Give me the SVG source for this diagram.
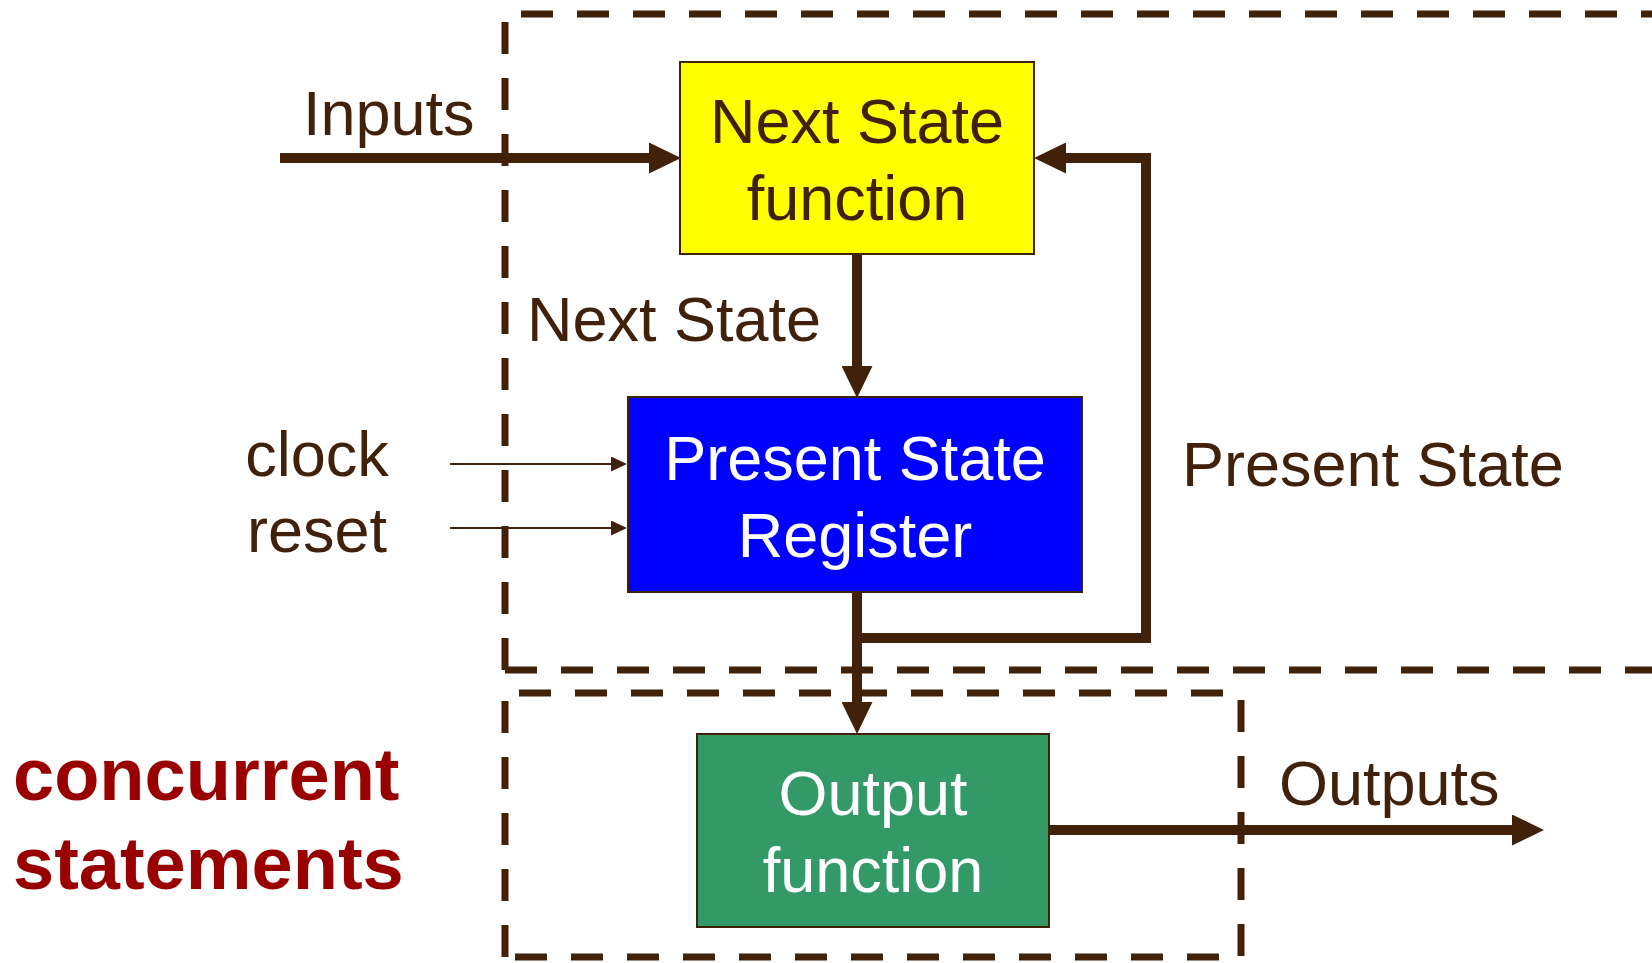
<svg xmlns="http://www.w3.org/2000/svg" width="1652" height="963" viewBox="0 0 1652 963">
  <style>
    .lbl { font-family: "Liberation Sans", Arial, sans-serif; font-size: 63px; fill: #41210A; }
    .box-text { font-family: "Liberation Sans", Arial, sans-serif; font-size: 63px; text-anchor: middle; }
    .note { font-family: "Liberation Sans", Arial, sans-serif; font-size: 74px; font-weight: bold; fill: #990000; }
    .dash { fill: none; stroke: #41210A; stroke-width: 7; stroke-dasharray: 32 24; }
    .wire { fill: none; stroke: #41210A; stroke-width: 10; stroke-linejoin: miter; }
    .thin { fill: none; stroke: #41210A; stroke-width: 2; }
    .block { stroke: #41210A; stroke-width: 2; }
  </style>
  <defs>
    <marker id="head" markerUnits="userSpaceOnUse" markerWidth="32" markerHeight="31" refX="0" refY="15.5" orient="auto">
      <path d="M0,0 L32,15.5 L0,31 Z" fill="#41210A"/>
    </marker>
    <marker id="head-small" markerUnits="userSpaceOnUse" markerWidth="16" markerHeight="15" refX="0" refY="7.5" orient="auto">
      <path d="M0,0 L16,7.5 L0,15 Z" fill="#41210A"/>
    </marker>
  </defs>

  <rect width="1652" height="963" fill="#FFFFFF"/>

  <!-- sequential region (outer dashed frame, open to the right) -->
  <g id="frame-sequential">
    <path class="dash" d="M521,14 H1652"/>
    <path class="dash" d="M505,670 V10"/>
    <path class="dash" d="M505,670 H1652"/>
  </g>

  <!-- combinational output region (inner dashed frame) -->
  <g id="frame-output">
    <path class="dash" d="M519,693 H1241"/>
    <path class="dash" d="M505,957 V693"/>
    <path class="dash" d="M515,957 H1241"/>
    <path class="dash" d="M1241,700 V957"/>
  </g>

  <!-- connectors -->
  <g id="connectors">
    <path class="wire" d="M280,158 H649" marker-end="url(#head)"/>
    <path class="wire" d="M857,254 V366" marker-end="url(#head)"/>
    <path class="wire" d="M857,592 V702" marker-end="url(#head)"/>
    <path class="wire" d="M857,638 H1146 V158 H1066" marker-end="url(#head)"/>
    <path class="wire" d="M1049,830 H1512" marker-end="url(#head)"/>
    <path class="thin" d="M450,464 H611" marker-end="url(#head-small)"/>
    <path class="thin" d="M450,528 H611" marker-end="url(#head-small)"/>
  </g>

  <!-- blocks -->
  <g id="next-state-function">
    <rect class="block" x="680" y="62" width="354" height="192" fill="#FFFF00"/>
    <text class="box-text" x="857" y="143" fill="#41210A">Next State</text>
    <text class="box-text" x="857" y="220" fill="#41210A">function</text>
  </g>

  <g id="present-state-register">
    <rect class="block" x="628" y="397" width="454" height="195" fill="#0000FF"/>
    <text class="box-text" x="855" y="480" fill="#FFFFFF">Present State</text>
    <text class="box-text" x="855" y="557" fill="#FFFFFF">Register</text>
  </g>

  <g id="output-function">
    <rect class="block" x="697" y="734" width="352" height="193" fill="#339966"/>
    <text class="box-text" x="873" y="815" fill="#FFFFFF">Output</text>
    <text class="box-text" x="873" y="892" fill="#FFFFFF">function</text>
  </g>

  <!-- signal labels -->
  <g id="labels">
    <text class="lbl" x="303" y="135">Inputs</text>
    <text class="lbl" x="527" y="341">Next State</text>
    <text class="lbl" x="317" y="476" text-anchor="middle">clock</text>
    <text class="lbl" x="317" y="552" text-anchor="middle">reset</text>
    <text class="lbl" x="1182" y="486">Present State</text>
    <text class="lbl" x="1279" y="805">Outputs</text>
  </g>

  <g id="caption">
    <text class="note" x="13" y="800">concurrent</text>
    <text class="note" x="13" y="889">statements</text>
  </g>
</svg>
